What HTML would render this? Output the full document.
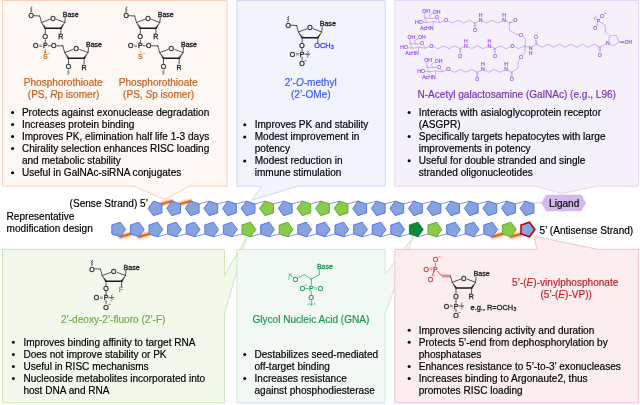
<!DOCTYPE html>
<html><head><meta charset="utf-8"><title>siRNA chemical modifications</title>
<style>
html,body{margin:0;padding:0;background:#fff;}
body{width:640px;height:405px;overflow:hidden;}
svg{display:block;will-change:transform;font-family:"Liberation Sans",sans-serif;}
.t{font-size:10.07px;fill:#000;stroke:#000;stroke-width:0.18px;}
.h{font-size:10.07px;text-anchor:middle;stroke-width:0.18px;}
.c{font-size:7px;fill:#222;stroke:#222;stroke-width:0.3px;text-anchor:middle;}
.cl{font-size:7px;fill:#222;stroke:#222;stroke-width:0.3px;}
.g{font-size:5.15px;fill:#9040E8;stroke:#9040E8;stroke-width:0.13px;text-anchor:middle;}
</style></head><body>
<svg width="640" height="405" viewBox="0 0 640 405">
<defs><filter id="glow" x="-20%" y="-100%" width="140%" height="300%"><feGaussianBlur stdDeviation="0.9"/></filter></defs>
<rect width="640" height="405" fill="#fff"/>
<path d="M2.50 249.40 L224.40 249.40 L224.40 275.50 L246.90 237.20 L224.40 313.50 L224.40 402.80 L2.50 402.80 Z" fill="#F3F8EC" stroke="#CDE6B2" stroke-width="1" stroke-linejoin="miter" />
<path d="M237.00 249.40 L385.00 249.40 L385.00 274.70 L413.30 236.50 L385.00 314.00 L385.00 402.80 L237.00 402.80 Z" fill="#F2F9F4" stroke="#CBE8D2" stroke-width="1" stroke-linejoin="miter" />
<path d="M394.80 249.40 L536.90 249.40 L534.00 236.20 L598.00 249.40 L638.50 249.40 L638.50 402.80 L394.80 402.80 Z" fill="#FCEEEF" stroke="#F4C5CA" stroke-width="1" stroke-linejoin="miter" />
<path d="M2.50 0.50 L227.00 0.50 L227.00 186.20 L188.90 186.20 L164.70 199.40 L133.40 186.20 L2.50 186.20 Z" fill="#FDF8F4" stroke="#FAD3B8" stroke-width="1" stroke-linejoin="miter" />
<path d="M237.00 0.50 L385.20 0.50 L385.20 186.20 L297.50 186.20 L251.30 200.30 L261.90 186.20 L237.00 186.20 Z" fill="#F1F3FD" stroke="#CFD8F8" stroke-width="1" stroke-linejoin="miter" />
<path d="M394.80 0.50 L638.50 0.50 L638.50 186.20 L596.60 186.20 L562.20 193.50 L535.60 186.20 L394.80 186.20 Z" fill="#F5F1FB" stroke="#E4D6F4" stroke-width="1" stroke-linejoin="miter" />
<line x1="161.94" y1="203.90" x2="171.99" y2="201.12" stroke="#F2A468" stroke-width="4" stroke-linecap="round" filter="url(#glow)"/>
<line x1="161.94" y1="203.90" x2="171.99" y2="201.12" stroke="#DA6A1E" stroke-width="1.9" stroke-linecap="round"/>
<line x1="180.54" y1="203.90" x2="190.59" y2="201.12" stroke="#F2A468" stroke-width="4" stroke-linecap="round" filter="url(#glow)"/>
<line x1="180.54" y1="203.90" x2="190.59" y2="201.12" stroke="#DA6A1E" stroke-width="1.9" stroke-linecap="round"/>
<line x1="199.14" y1="203.90" x2="209.19" y2="201.12" stroke="#5C7AF0" stroke-width="0.8"/>
<line x1="217.74" y1="203.90" x2="227.79" y2="201.12" stroke="#5C7AF0" stroke-width="0.8"/>
<line x1="236.34" y1="203.90" x2="246.39" y2="201.12" stroke="#5C7AF0" stroke-width="0.8"/>
<line x1="254.94" y1="203.90" x2="264.99" y2="201.12" stroke="#5C7AF0" stroke-width="0.8"/>
<line x1="273.54" y1="203.90" x2="283.59" y2="201.12" stroke="#5C7AF0" stroke-width="0.8"/>
<line x1="292.14" y1="203.90" x2="302.19" y2="201.12" stroke="#5C7AF0" stroke-width="0.8"/>
<line x1="310.74" y1="203.90" x2="320.79" y2="201.12" stroke="#5C7AF0" stroke-width="0.8"/>
<line x1="329.34" y1="203.90" x2="339.39" y2="201.12" stroke="#5C7AF0" stroke-width="0.8"/>
<line x1="347.94" y1="203.90" x2="357.99" y2="201.12" stroke="#5C7AF0" stroke-width="0.8"/>
<line x1="366.54" y1="203.90" x2="376.59" y2="201.12" stroke="#5C7AF0" stroke-width="0.8"/>
<line x1="385.14" y1="203.90" x2="395.19" y2="201.12" stroke="#5C7AF0" stroke-width="0.8"/>
<line x1="403.74" y1="203.90" x2="413.79" y2="201.12" stroke="#5C7AF0" stroke-width="0.8"/>
<line x1="422.34" y1="203.90" x2="432.39" y2="201.12" stroke="#5C7AF0" stroke-width="0.8"/>
<line x1="440.94" y1="203.90" x2="450.99" y2="201.12" stroke="#5C7AF0" stroke-width="0.8"/>
<line x1="459.54" y1="203.90" x2="469.59" y2="201.12" stroke="#5C7AF0" stroke-width="0.8"/>
<line x1="478.14" y1="203.90" x2="488.19" y2="201.12" stroke="#5C7AF0" stroke-width="0.8"/>
<line x1="496.74" y1="203.90" x2="506.79" y2="201.12" stroke="#5C7AF0" stroke-width="0.8"/>
<line x1="515.34" y1="203.90" x2="525.39" y2="201.12" stroke="#5C7AF0" stroke-width="0.8"/>
<line x1="120.36" y1="236.78" x2="130.41" y2="234.00" stroke="#F2A468" stroke-width="4" stroke-linecap="round" filter="url(#glow)"/>
<line x1="120.36" y1="236.78" x2="130.41" y2="234.00" stroke="#DA6A1E" stroke-width="1.9" stroke-linecap="round"/>
<line x1="138.96" y1="236.78" x2="149.01" y2="234.00" stroke="#F2A468" stroke-width="4" stroke-linecap="round" filter="url(#glow)"/>
<line x1="138.96" y1="236.78" x2="149.01" y2="234.00" stroke="#DA6A1E" stroke-width="1.9" stroke-linecap="round"/>
<line x1="157.56" y1="236.78" x2="167.61" y2="234.00" stroke="#5C7AF0" stroke-width="0.8"/>
<line x1="176.16" y1="236.78" x2="186.21" y2="234.00" stroke="#5C7AF0" stroke-width="0.8"/>
<line x1="194.76" y1="236.78" x2="204.81" y2="234.00" stroke="#5C7AF0" stroke-width="0.8"/>
<line x1="213.36" y1="236.78" x2="223.41" y2="234.00" stroke="#5C7AF0" stroke-width="0.8"/>
<line x1="231.96" y1="236.78" x2="242.01" y2="234.00" stroke="#5C7AF0" stroke-width="0.8"/>
<line x1="250.56" y1="236.78" x2="260.61" y2="234.00" stroke="#5C7AF0" stroke-width="0.8"/>
<line x1="269.16" y1="236.78" x2="279.21" y2="234.00" stroke="#5C7AF0" stroke-width="0.8"/>
<line x1="287.76" y1="236.78" x2="297.81" y2="234.00" stroke="#5C7AF0" stroke-width="0.8"/>
<line x1="306.36" y1="236.78" x2="316.41" y2="234.00" stroke="#5C7AF0" stroke-width="0.8"/>
<line x1="324.96" y1="236.78" x2="335.01" y2="234.00" stroke="#5C7AF0" stroke-width="0.8"/>
<line x1="343.56" y1="236.78" x2="353.61" y2="234.00" stroke="#5C7AF0" stroke-width="0.8"/>
<line x1="362.16" y1="236.78" x2="372.21" y2="234.00" stroke="#5C7AF0" stroke-width="0.8"/>
<line x1="380.76" y1="236.78" x2="390.81" y2="234.00" stroke="#5C7AF0" stroke-width="0.8"/>
<line x1="399.36" y1="236.78" x2="409.41" y2="234.00" stroke="#5C7AF0" stroke-width="0.8"/>
<line x1="417.96" y1="236.78" x2="428.01" y2="234.00" stroke="#5C7AF0" stroke-width="0.8"/>
<line x1="436.56" y1="236.78" x2="446.61" y2="234.00" stroke="#5C7AF0" stroke-width="0.8"/>
<line x1="455.16" y1="236.78" x2="465.21" y2="234.00" stroke="#5C7AF0" stroke-width="0.8"/>
<line x1="473.76" y1="236.78" x2="483.81" y2="234.00" stroke="#5C7AF0" stroke-width="0.8"/>
<line x1="492.36" y1="236.78" x2="502.41" y2="234.00" stroke="#F2A468" stroke-width="4" stroke-linecap="round" filter="url(#glow)"/>
<line x1="492.36" y1="236.78" x2="502.41" y2="234.00" stroke="#DA6A1E" stroke-width="1.9" stroke-linecap="round"/>
<line x1="510.96" y1="236.78" x2="521.01" y2="234.00" stroke="#F2A468" stroke-width="4" stroke-linecap="round" filter="url(#glow)"/>
<line x1="510.96" y1="236.78" x2="521.01" y2="234.00" stroke="#DA6A1E" stroke-width="1.9" stroke-linecap="round"/>
<line x1="533.94" y1="202.9" x2="542" y2="202.9" stroke="#CDB4EE" stroke-width="0.8"/>
<path d="M148.10 208.40 L153.39 201.12 L161.94 203.90 L161.94 212.90 L153.39 215.68 Z" fill="#86A3DC" stroke="#4C6CF0" stroke-width="0.9" stroke-linejoin="miter" />
<path d="M166.70 208.40 L171.99 201.12 L180.54 203.90 L180.54 212.90 L171.99 215.68 Z" fill="#86A3DC" stroke="#4C6CF0" stroke-width="0.9" stroke-linejoin="miter" />
<path d="M185.30 208.40 L190.59 201.12 L199.14 203.90 L199.14 212.90 L190.59 215.68 Z" fill="#86A3DC" stroke="#4C6CF0" stroke-width="0.9" stroke-linejoin="miter" />
<path d="M203.90 208.40 L209.19 201.12 L217.74 203.90 L217.74 212.90 L209.19 215.68 Z" fill="#86A3DC" stroke="#4C6CF0" stroke-width="0.9" stroke-linejoin="miter" />
<path d="M222.50 208.40 L227.79 201.12 L236.34 203.90 L236.34 212.90 L227.79 215.68 Z" fill="#86A3DC" stroke="#4C6CF0" stroke-width="0.9" stroke-linejoin="miter" />
<path d="M241.10 208.40 L246.39 201.12 L254.94 203.90 L254.94 212.90 L246.39 215.68 Z" fill="#86A3DC" stroke="#4C6CF0" stroke-width="0.9" stroke-linejoin="miter" />
<path d="M259.70 208.40 L264.99 201.12 L273.54 203.90 L273.54 212.90 L264.99 215.68 Z" fill="#8ACB4A" stroke="#5FA22C" stroke-width="0.9" stroke-linejoin="miter" />
<path d="M278.30 208.40 L283.59 201.12 L292.14 203.90 L292.14 212.90 L283.59 215.68 Z" fill="#86A3DC" stroke="#4C6CF0" stroke-width="0.9" stroke-linejoin="miter" />
<path d="M296.90 208.40 L302.19 201.12 L310.74 203.90 L310.74 212.90 L302.19 215.68 Z" fill="#8ACB4A" stroke="#5FA22C" stroke-width="0.9" stroke-linejoin="miter" />
<path d="M315.50 208.40 L320.79 201.12 L329.34 203.90 L329.34 212.90 L320.79 215.68 Z" fill="#8ACB4A" stroke="#5FA22C" stroke-width="0.9" stroke-linejoin="miter" />
<path d="M334.10 208.40 L339.39 201.12 L347.94 203.90 L347.94 212.90 L339.39 215.68 Z" fill="#8ACB4A" stroke="#5FA22C" stroke-width="0.9" stroke-linejoin="miter" />
<path d="M352.70 208.40 L357.99 201.12 L366.54 203.90 L366.54 212.90 L357.99 215.68 Z" fill="#86A3DC" stroke="#4C6CF0" stroke-width="0.9" stroke-linejoin="miter" />
<path d="M371.30 208.40 L376.59 201.12 L385.14 203.90 L385.14 212.90 L376.59 215.68 Z" fill="#86A3DC" stroke="#4C6CF0" stroke-width="0.9" stroke-linejoin="miter" />
<path d="M389.90 208.40 L395.19 201.12 L403.74 203.90 L403.74 212.90 L395.19 215.68 Z" fill="#86A3DC" stroke="#4C6CF0" stroke-width="0.9" stroke-linejoin="miter" />
<path d="M408.50 208.40 L413.79 201.12 L422.34 203.90 L422.34 212.90 L413.79 215.68 Z" fill="#86A3DC" stroke="#4C6CF0" stroke-width="0.9" stroke-linejoin="miter" />
<path d="M427.10 208.40 L432.39 201.12 L440.94 203.90 L440.94 212.90 L432.39 215.68 Z" fill="#86A3DC" stroke="#4C6CF0" stroke-width="0.9" stroke-linejoin="miter" />
<path d="M445.70 208.40 L450.99 201.12 L459.54 203.90 L459.54 212.90 L450.99 215.68 Z" fill="#86A3DC" stroke="#4C6CF0" stroke-width="0.9" stroke-linejoin="miter" />
<path d="M464.30 208.40 L469.59 201.12 L478.14 203.90 L478.14 212.90 L469.59 215.68 Z" fill="#86A3DC" stroke="#4C6CF0" stroke-width="0.9" stroke-linejoin="miter" />
<path d="M482.90 208.40 L488.19 201.12 L496.74 203.90 L496.74 212.90 L488.19 215.68 Z" fill="#86A3DC" stroke="#4C6CF0" stroke-width="0.9" stroke-linejoin="miter" />
<path d="M501.50 208.40 L506.79 201.12 L515.34 203.90 L515.34 212.90 L506.79 215.68 Z" fill="#86A3DC" stroke="#4C6CF0" stroke-width="0.9" stroke-linejoin="miter" />
<path d="M520.10 208.40 L525.39 201.12 L533.94 203.90 L533.94 212.90 L525.39 215.68 Z" fill="#86A3DC" stroke="#4C6CF0" stroke-width="0.9" stroke-linejoin="miter" />
<path d="M125.65 229.50 L120.36 222.22 L111.81 225.00 L111.81 234.00 L120.36 236.78 Z" fill="#86A3DC" stroke="#4C6CF0" stroke-width="0.9" stroke-linejoin="miter" />
<path d="M144.25 229.50 L138.96 222.22 L130.41 225.00 L130.41 234.00 L138.96 236.78 Z" fill="#86A3DC" stroke="#4C6CF0" stroke-width="0.9" stroke-linejoin="miter" />
<path d="M162.85 229.50 L157.56 222.22 L149.01 225.00 L149.01 234.00 L157.56 236.78 Z" fill="#86A3DC" stroke="#4C6CF0" stroke-width="0.9" stroke-linejoin="miter" />
<path d="M181.45 229.50 L176.16 222.22 L167.61 225.00 L167.61 234.00 L176.16 236.78 Z" fill="#86A3DC" stroke="#4C6CF0" stroke-width="0.9" stroke-linejoin="miter" />
<path d="M200.05 229.50 L194.76 222.22 L186.21 225.00 L186.21 234.00 L194.76 236.78 Z" fill="#86A3DC" stroke="#4C6CF0" stroke-width="0.9" stroke-linejoin="miter" />
<path d="M218.65 229.50 L213.36 222.22 L204.81 225.00 L204.81 234.00 L213.36 236.78 Z" fill="#86A3DC" stroke="#4C6CF0" stroke-width="0.9" stroke-linejoin="miter" />
<path d="M237.25 229.50 L231.96 222.22 L223.41 225.00 L223.41 234.00 L231.96 236.78 Z" fill="#86A3DC" stroke="#4C6CF0" stroke-width="0.9" stroke-linejoin="miter" />
<path d="M255.85 229.50 L250.56 222.22 L242.01 225.00 L242.01 234.00 L250.56 236.78 Z" fill="#8ACB4A" stroke="#5FA22C" stroke-width="0.9" stroke-linejoin="miter" />
<path d="M274.45 229.50 L269.16 222.22 L260.61 225.00 L260.61 234.00 L269.16 236.78 Z" fill="#86A3DC" stroke="#4C6CF0" stroke-width="0.9" stroke-linejoin="miter" />
<path d="M293.05 229.50 L287.76 222.22 L279.21 225.00 L279.21 234.00 L287.76 236.78 Z" fill="#8ACB4A" stroke="#5FA22C" stroke-width="0.9" stroke-linejoin="miter" />
<path d="M311.65 229.50 L306.36 222.22 L297.81 225.00 L297.81 234.00 L306.36 236.78 Z" fill="#86A3DC" stroke="#4C6CF0" stroke-width="0.9" stroke-linejoin="miter" />
<path d="M330.25 229.50 L324.96 222.22 L316.41 225.00 L316.41 234.00 L324.96 236.78 Z" fill="#86A3DC" stroke="#4C6CF0" stroke-width="0.9" stroke-linejoin="miter" />
<path d="M348.85 229.50 L343.56 222.22 L335.01 225.00 L335.01 234.00 L343.56 236.78 Z" fill="#86A3DC" stroke="#4C6CF0" stroke-width="0.9" stroke-linejoin="miter" />
<path d="M367.45 229.50 L362.16 222.22 L353.61 225.00 L353.61 234.00 L362.16 236.78 Z" fill="#86A3DC" stroke="#4C6CF0" stroke-width="0.9" stroke-linejoin="miter" />
<path d="M386.05 229.50 L380.76 222.22 L372.21 225.00 L372.21 234.00 L380.76 236.78 Z" fill="#86A3DC" stroke="#4C6CF0" stroke-width="0.9" stroke-linejoin="miter" />
<path d="M404.65 229.50 L399.36 222.22 L390.81 225.00 L390.81 234.00 L399.36 236.78 Z" fill="#86A3DC" stroke="#4C6CF0" stroke-width="0.9" stroke-linejoin="miter" />
<path d="M423.25 229.50 L417.96 222.22 L409.41 225.00 L409.41 234.00 L417.96 236.78 Z" fill="#0E8A3C" stroke="#2A6B2A" stroke-width="0.9" stroke-linejoin="miter" />
<path d="M441.85 229.50 L436.56 222.22 L428.01 225.00 L428.01 234.00 L436.56 236.78 Z" fill="#8ACB4A" stroke="#5FA22C" stroke-width="0.9" stroke-linejoin="miter" />
<path d="M460.45 229.50 L455.16 222.22 L446.61 225.00 L446.61 234.00 L455.16 236.78 Z" fill="#86A3DC" stroke="#4C6CF0" stroke-width="0.9" stroke-linejoin="miter" />
<path d="M479.05 229.50 L473.76 222.22 L465.21 225.00 L465.21 234.00 L473.76 236.78 Z" fill="#86A3DC" stroke="#4C6CF0" stroke-width="0.9" stroke-linejoin="miter" />
<path d="M497.65 229.50 L492.36 222.22 L483.81 225.00 L483.81 234.00 L492.36 236.78 Z" fill="#86A3DC" stroke="#4C6CF0" stroke-width="0.9" stroke-linejoin="miter" />
<path d="M516.25 229.50 L510.96 222.22 L502.41 225.00 L502.41 234.00 L510.96 236.78 Z" fill="#8ACB4A" stroke="#5FA22C" stroke-width="0.9" stroke-linejoin="miter" />
<path d="M534.85 229.50 L529.56 222.22 L521.01 225.00 L521.01 234.00 L529.56 236.78 Z" fill="#82A6E2" stroke="#C00000" stroke-width="1.6" stroke-linejoin="miter" />
<path d="M541.60 202.90 L546.20 194.90 L581.20 194.90 L585.80 202.90 L581.20 211.00 L546.20 211.00 Z" fill="#D5B9EC" stroke="#D5B9EC" stroke-width="0.5" stroke-linejoin="miter" />
<text class="t" x="549.1" y="206.8">Ligand</text>
<text class="t" x="69.6" y="207.3" >(Sense Strand) 5’</text>
<text class="t" x="6.6" y="220" >Representative</text>
<text class="t" x="6.6" y="232" >modification design</text>
<text class="t" x="539.6" y="234.2" >5’ (Antisense Strand)</text>
<text class="h" x="63.2" y="86" fill="#C65F1C" stroke="#C65F1C">Phosphorothioate</text>
<text class="h" x="63.6" y="98" fill="#C65F1C" stroke="#C65F1C">(PS, <tspan font-style="italic">R</tspan>p isomer)</text>
<text class="h" x="158.2" y="86" fill="#C65F1C" stroke="#C65F1C">Phosphorothioate</text>
<text class="h" x="158.6" y="98" fill="#C65F1C" stroke="#C65F1C">(PS, <tspan font-style="italic">S</tspan>p isomer)</text>
<circle cx="12.55" cy="112.40" r="1.5" fill="#000"/>
<text class="t" x="21.9" y="115.7" >Protects against exonuclease degradation</text>
<circle cx="12.55" cy="124.50" r="1.5" fill="#000"/>
<text class="t" x="21.9" y="127.8" >Increases protein binding</text>
<circle cx="12.55" cy="136.60" r="1.5" fill="#000"/>
<text class="t" x="21.9" y="139.9" >Improves PK, elimination half life 1-3 days</text>
<circle cx="12.55" cy="148.60" r="1.5" fill="#000"/>
<text class="t" x="21.9" y="151.9" >Chirality selection enhances RISC loading</text>
<text class="t" x="21.9" y="164" >and metabolic stability</text>
<circle cx="12.55" cy="172.80" r="1.5" fill="#000"/>
<text class="t" x="21.9" y="176.1" >Useful in GalNAc-siRNA conjugates</text>
<text class="h" x="310.7" y="85.6" fill="#3B5BEE" stroke="#3B5BEE">2’-<tspan font-style="italic">O</tspan>-methyl</text>
<text class="h" x="310.8" y="98" fill="#3B5BEE" stroke="#3B5BEE">(2’-OMe)</text>
<circle cx="244.75" cy="124.80" r="1.5" fill="#000"/>
<text class="t" x="254.7" y="128.1" >Improves PK and stability</text>
<circle cx="244.75" cy="136.90" r="1.5" fill="#000"/>
<text class="t" x="254.7" y="140.2" >Modest improvement in</text>
<text class="t" x="254.7" y="152.2" >potency</text>
<circle cx="244.75" cy="161.00" r="1.5" fill="#000"/>
<text class="t" x="254.7" y="164.3" >Modest reduction in</text>
<text class="t" x="254.7" y="176.4" >immune stimulation</text>
<text class="h" x="516.7" y="97.6" fill="#7A30B8" stroke="#7A30B8">N-Acetyl galactosamine (GalNAc) (e.g., L96)</text>
<circle cx="409.15" cy="112.40" r="1.5" fill="#000"/>
<text class="t" x="418.7" y="115.7" >Interacts with asialoglycoprotein receptor</text>
<text class="t" x="418.7" y="127.8" >(ASGPR)</text>
<circle cx="409.15" cy="136.60" r="1.5" fill="#000"/>
<text class="t" x="418.7" y="139.9" >Specifically targets hepatocytes with large</text>
<text class="t" x="418.7" y="151.9" >improvements in potency</text>
<circle cx="409.15" cy="160.70" r="1.5" fill="#000"/>
<text class="t" x="418.7" y="164" >Useful for double stranded and single</text>
<text class="t" x="418.7" y="176.1" >stranded oligonucleotides</text>
<text class="h" x="113.2" y="323" fill="#70AD47" stroke="#70AD47">2’-deoxy-2’-fluoro (2’-F)</text>
<circle cx="13.35" cy="342.30" r="1.5" fill="#000"/>
<text class="t" x="23.4" y="345.6" >Improves binding affinity to target RNA</text>
<circle cx="13.35" cy="354.40" r="1.5" fill="#000"/>
<text class="t" x="23.4" y="357.7" >Does not improve stability or PK</text>
<circle cx="13.35" cy="366.40" r="1.5" fill="#000"/>
<text class="t" x="23.4" y="369.7" >Useful in RISC mechanisms</text>
<circle cx="13.35" cy="378.50" r="1.5" fill="#000"/>
<text class="t" x="23.4" y="381.8" >Nucleoside metabolites incorporated into</text>
<text class="t" x="23.4" y="393.9" >host DNA and RNA</text>
<text class="h" x="310.9" y="323" fill="#1A9A50" stroke="#1A9A50">Glycol Nucleic Acid (GNA)</text>
<circle cx="244.75" cy="354.50" r="1.5" fill="#000"/>
<text class="t" x="254.5" y="357.8" >Destabilizes seed-mediated</text>
<text class="t" x="254.5" y="369.8" >off-target binding</text>
<circle cx="244.75" cy="378.50" r="1.5" fill="#000"/>
<text class="t" x="254.5" y="381.8" >Increases resistance</text>
<text class="t" x="254.5" y="393.9" >against phosphodiesterase</text>
<text class="h" x="565.2" y="285.7" fill="#C0202A" stroke="#C0202A">5’-(<tspan font-style="italic">E</tspan>)-vinylphosphonate</text>
<text class="h" x="566.2" y="297.6" fill="#C0202A" stroke="#C0202A">(5’-(<tspan font-style="italic">E</tspan>)-VP))</text>
<circle cx="409.15" cy="330.20" r="1.5" fill="#000"/>
<text class="t" x="418.7" y="333.5" >Improves silencing activity and duration</text>
<circle cx="409.15" cy="342.30" r="1.5" fill="#000"/>
<text class="t" x="418.7" y="345.6" >Protects 5’-end from dephosphorylation by</text>
<text class="t" x="418.7" y="357.7" >phosphatases</text>
<circle cx="409.15" cy="366.50" r="1.5" fill="#000"/>
<text class="t" x="418.7" y="369.8" >Enhances resistance to 5’-to-3’ exonucleases</text>
<circle cx="409.15" cy="378.50" r="1.5" fill="#000"/>
<text class="t" x="418.7" y="381.8" >Increases binding to Argonaute2, thus</text>
<text class="t" x="418.7" y="393.9" >promotes RISC loading</text>
<line x1="39.70" y1="16.00" x2="41.50" y2="22.50" stroke="#2a2a2a" stroke-width="0.8" stroke-linecap="round" />
<line x1="41.50" y1="22.50" x2="49.80" y2="19.40" stroke="#2a2a2a" stroke-width="0.8" stroke-linecap="round" />
<line x1="56.60" y1="19.40" x2="64.80" y2="22.50" stroke="#2a2a2a" stroke-width="0.8" stroke-linecap="round" />
<text class="c" x="53.1" y="20.8">O</text>
<polygon points="41.50,22.50 44.68,28.62 45.92,27.78" fill="#1a1a1a" stroke="#1a1a1a" stroke-width="0.3" stroke-linejoin="round"/>
<polygon points="64.80,22.50 60.28,27.78 61.52,28.62" fill="#1a1a1a" stroke="#1a1a1a" stroke-width="0.3" stroke-linejoin="round"/>
<line x1="45.30" y1="28.20" x2="60.90" y2="28.20" stroke="#1a1a1a" stroke-width="1.5" stroke-linecap="round" />
<line x1="64.80" y1="22.50" x2="65.30" y2="17.70" stroke="#2a2a2a" stroke-width="0.8" stroke-linecap="round" />
<text class="cl" x="62.8" y="16.9">Base</text>
<line x1="45.30" y1="28.20" x2="45.30" y2="33.50" stroke="#2a2a2a" stroke-width="0.8" stroke-linecap="round" />
<text class="c" x="45.2" y="39.1">O</text>
<line x1="60.90" y1="28.20" x2="60.90" y2="33.50" stroke="#2a2a2a" stroke-width="0.8" stroke-linecap="round" />
<text class="c" x="31.3" y="18.4">O</text>
<line x1="34.30" y1="15.70" x2="39.70" y2="16.00" stroke="#2a2a2a" stroke-width="0.8" stroke-linecap="round" />
<path d="M31.30 6.90 Q33.00 7.37 31.30 7.83 Q29.60 8.30 31.30 8.77 Q33.00 9.23 31.30 9.70 Q29.60 10.17 31.30 10.63 Q33.00 11.10 31.30 11.57 Q29.60 12.03 31.30 12.50" fill="none" stroke="#2a2a2a" stroke-width="0.65"/>
<text class="c" x="60.9" y="39.4">R</text>
<line x1="45.30" y1="40.10" x2="45.30" y2="42.70" stroke="#2a2a2a" stroke-width="0.8" stroke-linecap="round" />
<text class="c" x="45.3" y="48.4">P</text>
<text class="c" x="35.7" y="48.4">O</text>
<line x1="39.60" y1="45.10" x2="41.70" y2="45.10" stroke="#2a2a2a" stroke-width="0.5" stroke-linecap="round" />
<line x1="39.60" y1="46.50" x2="41.70" y2="46.50" stroke="#2a2a2a" stroke-width="0.5" stroke-linecap="round" />
<line x1="48.20" y1="45.80" x2="50.30" y2="45.80" stroke="#2a2a2a" stroke-width="0.8" stroke-linecap="round" />
<text class="c" x="53.7" y="48.4">O</text>
<line x1="56.80" y1="45.80" x2="62.50" y2="45.80" stroke="#2a2a2a" stroke-width="0.8" stroke-linecap="round" />
<line x1="62.50" y1="45.80" x2="62.90" y2="46.10" stroke="#2a2a2a" stroke-width="0.8" stroke-linecap="round" />
<line x1="62.90" y1="46.10" x2="64.70" y2="52.60" stroke="#2a2a2a" stroke-width="0.8" stroke-linecap="round" />
<line x1="64.70" y1="52.60" x2="73.00" y2="49.50" stroke="#2a2a2a" stroke-width="0.8" stroke-linecap="round" />
<line x1="79.80" y1="49.50" x2="88.00" y2="52.60" stroke="#2a2a2a" stroke-width="0.8" stroke-linecap="round" />
<text class="c" x="76.3" y="50.9">O</text>
<polygon points="64.70,52.60 67.88,58.72 69.12,57.88" fill="#1a1a1a" stroke="#1a1a1a" stroke-width="0.3" stroke-linejoin="round"/>
<polygon points="88.00,52.60 83.48,57.88 84.72,58.72" fill="#1a1a1a" stroke="#1a1a1a" stroke-width="0.3" stroke-linejoin="round"/>
<line x1="68.50" y1="58.30" x2="84.10" y2="58.30" stroke="#1a1a1a" stroke-width="1.5" stroke-linecap="round" />
<line x1="88.00" y1="52.60" x2="88.50" y2="47.80" stroke="#2a2a2a" stroke-width="0.8" stroke-linecap="round" />
<text class="cl" x="86" y="47">Base</text>
<line x1="68.50" y1="58.30" x2="68.50" y2="63.60" stroke="#2a2a2a" stroke-width="0.8" stroke-linecap="round" />
<text class="c" x="68.4" y="69.2">O</text>
<line x1="84.10" y1="58.30" x2="84.10" y2="63.60" stroke="#2a2a2a" stroke-width="0.8" stroke-linecap="round" />
<text class="c" x="84.1" y="69.5">R</text>
<path d="M68.40 70.10 Q70.10 70.65 68.40 71.20 Q66.70 71.75 68.40 72.30 Q70.10 72.85 68.40 73.40 Q66.70 73.95 68.40 74.50" fill="none" stroke="#2a2a2a" stroke-width="0.65"/>
<text class="c" x="45.3" y="59.3" style="fill:#CC6A2C;stroke:#CC6A2C">S</text>
<line x1="48.15" y1="53.40" x2="50.05" y2="53.40" stroke="#CC6A2C" stroke-width="0.5" stroke-linecap="round" />
<polygon points="45.30,49.00 44.50,53.00 46.10,53.00" fill="#C65F1C" stroke="#C65F1C" stroke-width="0.3" stroke-linejoin="round"/>
<line x1="134.70" y1="16.00" x2="136.50" y2="22.50" stroke="#2a2a2a" stroke-width="0.8" stroke-linecap="round" />
<line x1="136.50" y1="22.50" x2="144.80" y2="19.40" stroke="#2a2a2a" stroke-width="0.8" stroke-linecap="round" />
<line x1="151.60" y1="19.40" x2="159.80" y2="22.50" stroke="#2a2a2a" stroke-width="0.8" stroke-linecap="round" />
<text class="c" x="148.1" y="20.8">O</text>
<polygon points="136.50,22.50 139.68,28.62 140.92,27.78" fill="#1a1a1a" stroke="#1a1a1a" stroke-width="0.3" stroke-linejoin="round"/>
<polygon points="159.80,22.50 155.28,27.78 156.52,28.62" fill="#1a1a1a" stroke="#1a1a1a" stroke-width="0.3" stroke-linejoin="round"/>
<line x1="140.30" y1="28.20" x2="155.90" y2="28.20" stroke="#1a1a1a" stroke-width="1.5" stroke-linecap="round" />
<line x1="159.80" y1="22.50" x2="160.30" y2="17.70" stroke="#2a2a2a" stroke-width="0.8" stroke-linecap="round" />
<text class="cl" x="157.8" y="16.9">Base</text>
<line x1="140.30" y1="28.20" x2="140.30" y2="33.50" stroke="#2a2a2a" stroke-width="0.8" stroke-linecap="round" />
<text class="c" x="140.2" y="39.1">O</text>
<line x1="155.90" y1="28.20" x2="155.90" y2="33.50" stroke="#2a2a2a" stroke-width="0.8" stroke-linecap="round" />
<text class="c" x="126.3" y="18.4">O</text>
<line x1="129.30" y1="15.70" x2="134.70" y2="16.00" stroke="#2a2a2a" stroke-width="0.8" stroke-linecap="round" />
<path d="M126.30 6.90 Q128.00 7.37 126.30 7.83 Q124.60 8.30 126.30 8.77 Q128.00 9.23 126.30 9.70 Q124.60 10.17 126.30 10.63 Q128.00 11.10 126.30 11.57 Q124.60 12.03 126.30 12.50" fill="none" stroke="#2a2a2a" stroke-width="0.65"/>
<text class="c" x="155.9" y="39.4">R</text>
<line x1="140.30" y1="40.10" x2="140.30" y2="42.70" stroke="#2a2a2a" stroke-width="0.8" stroke-linecap="round" />
<text class="c" x="140.3" y="48.4">P</text>
<text class="c" x="130.7" y="48.4">O</text>
<line x1="134.60" y1="45.10" x2="136.70" y2="45.10" stroke="#2a2a2a" stroke-width="0.5" stroke-linecap="round" />
<line x1="134.60" y1="46.50" x2="136.70" y2="46.50" stroke="#2a2a2a" stroke-width="0.5" stroke-linecap="round" />
<line x1="143.20" y1="45.80" x2="145.30" y2="45.80" stroke="#2a2a2a" stroke-width="0.8" stroke-linecap="round" />
<text class="c" x="148.7" y="48.4">O</text>
<line x1="151.80" y1="45.80" x2="157.50" y2="45.80" stroke="#2a2a2a" stroke-width="0.8" stroke-linecap="round" />
<line x1="157.50" y1="45.80" x2="157.90" y2="46.10" stroke="#2a2a2a" stroke-width="0.8" stroke-linecap="round" />
<line x1="157.90" y1="46.10" x2="159.70" y2="52.60" stroke="#2a2a2a" stroke-width="0.8" stroke-linecap="round" />
<line x1="159.70" y1="52.60" x2="168.00" y2="49.50" stroke="#2a2a2a" stroke-width="0.8" stroke-linecap="round" />
<line x1="174.80" y1="49.50" x2="183.00" y2="52.60" stroke="#2a2a2a" stroke-width="0.8" stroke-linecap="round" />
<text class="c" x="171.3" y="50.9">O</text>
<polygon points="159.70,52.60 162.88,58.72 164.12,57.88" fill="#1a1a1a" stroke="#1a1a1a" stroke-width="0.3" stroke-linejoin="round"/>
<polygon points="183.00,52.60 178.48,57.88 179.72,58.72" fill="#1a1a1a" stroke="#1a1a1a" stroke-width="0.3" stroke-linejoin="round"/>
<line x1="163.50" y1="58.30" x2="179.10" y2="58.30" stroke="#1a1a1a" stroke-width="1.5" stroke-linecap="round" />
<line x1="183.00" y1="52.60" x2="183.50" y2="47.80" stroke="#2a2a2a" stroke-width="0.8" stroke-linecap="round" />
<text class="cl" x="181" y="47">Base</text>
<line x1="163.50" y1="58.30" x2="163.50" y2="63.60" stroke="#2a2a2a" stroke-width="0.8" stroke-linecap="round" />
<text class="c" x="163.4" y="69.2">O</text>
<line x1="179.10" y1="58.30" x2="179.10" y2="63.60" stroke="#2a2a2a" stroke-width="0.8" stroke-linecap="round" />
<text class="c" x="179.1" y="69.5">R</text>
<path d="M163.40 70.10 Q165.10 70.65 163.40 71.20 Q161.70 71.75 163.40 72.30 Q165.10 72.85 163.40 73.40 Q161.70 73.95 163.40 74.50" fill="none" stroke="#2a2a2a" stroke-width="0.65"/>
<text class="c" x="140.3" y="59.3" style="fill:#CC6A2C;stroke:#CC6A2C">S</text>
<line x1="143.15" y1="53.40" x2="145.05" y2="53.40" stroke="#CC6A2C" stroke-width="0.5" stroke-linecap="round" />
<line x1="140.61" y1="49.50" x2="139.99" y2="49.50" stroke="#E0A070" stroke-width="0.4" stroke-linecap="round" />
<line x1="140.75" y1="50.50" x2="139.85" y2="50.50" stroke="#E0A070" stroke-width="0.4" stroke-linecap="round" />
<line x1="140.89" y1="51.50" x2="139.71" y2="51.50" stroke="#E0A070" stroke-width="0.4" stroke-linecap="round" />
<line x1="141.03" y1="52.50" x2="139.57" y2="52.50" stroke="#E0A070" stroke-width="0.4" stroke-linecap="round" />
<line x1="296.60" y1="25.50" x2="298.40" y2="32.00" stroke="#2a2a2a" stroke-width="0.8" stroke-linecap="round" />
<line x1="298.40" y1="32.00" x2="306.70" y2="28.90" stroke="#2a2a2a" stroke-width="0.8" stroke-linecap="round" />
<line x1="313.50" y1="28.90" x2="321.70" y2="32.00" stroke="#2a2a2a" stroke-width="0.8" stroke-linecap="round" />
<text class="c" x="310" y="30.3">O</text>
<polygon points="298.40,32.00 301.58,38.12 302.82,37.28" fill="#1a1a1a" stroke="#1a1a1a" stroke-width="0.3" stroke-linejoin="round"/>
<polygon points="321.70,32.00 317.18,37.28 318.42,38.12" fill="#1a1a1a" stroke="#1a1a1a" stroke-width="0.3" stroke-linejoin="round"/>
<line x1="302.20" y1="37.70" x2="317.80" y2="37.70" stroke="#1a1a1a" stroke-width="1.5" stroke-linecap="round" />
<line x1="321.70" y1="32.00" x2="322.20" y2="27.20" stroke="#2a2a2a" stroke-width="0.8" stroke-linecap="round" />
<text class="cl" x="319.7" y="25.8" style="font-size:7.1px">Base</text>
<line x1="302.20" y1="37.70" x2="302.20" y2="42.10" stroke="#2a2a2a" stroke-width="0.8" stroke-linecap="round" />
<text class="c" x="302.1" y="47.7">O</text>
<line x1="317.80" y1="37.70" x2="317.80" y2="43.00" stroke="#2a2a2a" stroke-width="0.8" stroke-linecap="round" />
<text class="c" x="288.2" y="27.9">O</text>
<line x1="291.20" y1="25.20" x2="296.60" y2="25.50" stroke="#2a2a2a" stroke-width="0.8" stroke-linecap="round" />
<path d="M288.20 16.40 Q289.90 16.87 288.20 17.33 Q286.50 17.80 288.20 18.27 Q289.90 18.73 288.20 19.20 Q286.50 19.67 288.20 20.13 Q289.90 20.60 288.20 21.07 Q286.50 21.53 288.20 22.00" fill="none" stroke="#2a2a2a" stroke-width="0.65"/>
<text class="cl" x="314.2" y="48.4" style="font-size:7.4px;fill:#3C3CF0;stroke:#3C3CF0">OCH<tspan style="font-size:5px" dx="0.3" dy="1">3</tspan></text>
<line x1="302.10" y1="47.60" x2="302.10" y2="51.20" stroke="#2a2a2a" stroke-width="0.8" stroke-linecap="round" />
<text class="c" x="302.1" y="56.8">P</text>
<text class="c" x="292.6" y="56.8">O</text>
<line x1="296.40" y1="53.50" x2="298.50" y2="53.50" stroke="#2a2a2a" stroke-width="0.5" stroke-linecap="round" />
<line x1="296.40" y1="54.90" x2="298.50" y2="54.90" stroke="#2a2a2a" stroke-width="0.5" stroke-linecap="round" />
<line x1="304.90" y1="54.20" x2="309.70" y2="54.20" stroke="#2a2a2a" stroke-width="0.8" stroke-linecap="round" />
<path d="M307.90 50.60 Q309.10 51.20 307.90 51.80 Q306.70 52.40 307.90 53.00 Q309.10 53.60 307.90 54.20 Q306.70 54.80 307.90 55.40 Q309.10 56.00 307.90 56.60 Q306.70 57.20 307.90 57.80" fill="none" stroke="#2a2a2a" stroke-width="0.65"/>
<line x1="302.10" y1="57.30" x2="302.10" y2="59.90" stroke="#2a2a2a" stroke-width="0.8" stroke-linecap="round" />
<text class="c" x="302" y="66">O</text>
<line x1="304.55" y1="60.80" x2="306.45" y2="60.80" stroke="#222" stroke-width="0.5" stroke-linecap="round" />
<line x1="100.40" y1="269.10" x2="102.20" y2="275.60" stroke="#2a2a2a" stroke-width="0.8" stroke-linecap="round" />
<line x1="102.20" y1="275.60" x2="110.50" y2="272.50" stroke="#2a2a2a" stroke-width="0.8" stroke-linecap="round" />
<line x1="117.30" y1="272.50" x2="125.50" y2="275.60" stroke="#2a2a2a" stroke-width="0.8" stroke-linecap="round" />
<text class="c" x="113.8" y="273.9">O</text>
<polygon points="102.20,275.60 105.38,281.72 106.62,280.88" fill="#1a1a1a" stroke="#1a1a1a" stroke-width="0.3" stroke-linejoin="round"/>
<polygon points="125.50,275.60 120.98,280.88 122.22,281.72" fill="#1a1a1a" stroke="#1a1a1a" stroke-width="0.3" stroke-linejoin="round"/>
<line x1="106.00" y1="281.30" x2="121.60" y2="281.30" stroke="#1a1a1a" stroke-width="1.5" stroke-linecap="round" />
<line x1="125.50" y1="275.60" x2="126.00" y2="270.80" stroke="#2a2a2a" stroke-width="0.8" stroke-linecap="round" />
<text class="cl" x="123.5" y="270" style="font-size:7.1px">Base</text>
<line x1="106.00" y1="281.30" x2="106.00" y2="285.60" stroke="#2a2a2a" stroke-width="0.8" stroke-linecap="round" />
<text class="c" x="105.9" y="291.2">O</text>
<line x1="121.60" y1="281.30" x2="121.60" y2="286.60" stroke="#2a2a2a" stroke-width="0.8" stroke-linecap="round" />
<text class="c" x="92" y="271.5">O</text>
<line x1="95.00" y1="268.80" x2="100.40" y2="269.10" stroke="#2a2a2a" stroke-width="0.8" stroke-linecap="round" />
<path d="M92.00 260.00 Q93.70 260.47 92.00 260.93 Q90.30 261.40 92.00 261.87 Q93.70 262.33 92.00 262.80 Q90.30 263.27 92.00 263.73 Q93.70 264.20 92.00 264.67 Q90.30 265.13 92.00 265.60" fill="none" stroke="#2a2a2a" stroke-width="0.65"/>
<text class="cl" x="118.7" y="292.2" style="font-size:7.4px;fill:#70AD47;stroke:#70AD47">F</text>
<line x1="106.00" y1="291.20" x2="106.00" y2="294.70" stroke="#2a2a2a" stroke-width="0.8" stroke-linecap="round" />
<text class="c" x="106" y="300.3">P</text>
<text class="c" x="96.5" y="300.3">O</text>
<line x1="100.30" y1="297.00" x2="102.40" y2="297.00" stroke="#2a2a2a" stroke-width="0.5" stroke-linecap="round" />
<line x1="100.30" y1="298.40" x2="102.40" y2="298.40" stroke="#2a2a2a" stroke-width="0.5" stroke-linecap="round" />
<line x1="108.80" y1="297.70" x2="113.60" y2="297.70" stroke="#2a2a2a" stroke-width="0.8" stroke-linecap="round" />
<path d="M111.80 294.10 Q113.00 294.70 111.80 295.30 Q110.60 295.90 111.80 296.50 Q113.00 297.10 111.80 297.70 Q110.60 298.30 111.80 298.90 Q113.00 299.50 111.80 300.10 Q110.60 300.70 111.80 301.30" fill="none" stroke="#2a2a2a" stroke-width="0.65"/>
<line x1="106.00" y1="300.80" x2="106.00" y2="303.40" stroke="#2a2a2a" stroke-width="0.8" stroke-linecap="round" />
<text class="c" x="105.9" y="309.5">O</text>
<line x1="108.45" y1="304.30" x2="110.35" y2="304.30" stroke="#222" stroke-width="0.5" stroke-linecap="round" />
<text class="cl" x="316.9" y="268.8" style="font-size:7.1px;fill:#1F9A55;stroke:#1F9A55">Base</text>
<line x1="319.30" y1="269.60" x2="319.30" y2="274.60" stroke="#1F9A55" stroke-width="0.7" stroke-linecap="round" />
<line x1="319.30" y1="274.60" x2="311.30" y2="279.10" stroke="#1F9A55" stroke-width="0.7" stroke-linecap="round" />
<line x1="311.30" y1="279.10" x2="304.10" y2="274.60" stroke="#1F9A55" stroke-width="0.7" stroke-linecap="round" />
<line x1="304.10" y1="274.60" x2="298.40" y2="277.60" stroke="#1F9A55" stroke-width="0.7" stroke-linecap="round" />
<text class="c" x="295.6" y="281.9" style="fill:#1F9A55;stroke:#1F9A55">O</text>
<line x1="293.20" y1="277.20" x2="288.60" y2="274.00" stroke="#1F9A55" stroke-width="0.7" stroke-linecap="round" />
<path d="M288.2 279.8 q1.8 -0.6 0.9 -2.2 q-1 -1.6 0.9 -2.2 q1.8 -0.6 0.9 -2.2" fill="none" stroke="#1F9A55" stroke-width="0.55"/>
<line x1="311.30" y1="279.10" x2="311.30" y2="285.20" stroke="#1F9A55" stroke-width="0.7" stroke-linecap="round" />
<text class="c" x="311.3" y="291.1" style="fill:#1F9A55;stroke:#1F9A55">P</text>
<text class="c" x="302.5" y="291.3" style="fill:#1F9A55;stroke:#1F9A55">O</text>
<line x1="304.95" y1="285.00" x2="306.85" y2="285.00" stroke="#1F9A55" stroke-width="0.5" stroke-linecap="round" />
<line x1="305.60" y1="288.60" x2="308.40" y2="288.60" stroke="#1F9A55" stroke-width="0.7" stroke-linecap="round" />
<line x1="314.60" y1="287.90" x2="316.60" y2="287.90" stroke="#1F9A55" stroke-width="0.5" stroke-linecap="round" />
<line x1="314.60" y1="289.30" x2="316.60" y2="289.30" stroke="#1F9A55" stroke-width="0.5" stroke-linecap="round" />
<text class="c" x="320.4" y="291.3" style="fill:#1F9A55;stroke:#1F9A55">O</text>
<line x1="311.30" y1="291.60" x2="311.30" y2="294.20" stroke="#1F9A55" stroke-width="0.7" stroke-linecap="round" />
<text class="c" x="311.3" y="300.2" style="fill:#1F9A55;stroke:#1F9A55">O</text>
<line x1="311.30" y1="300.80" x2="311.30" y2="305.40" stroke="#1F9A55" stroke-width="0.7" stroke-linecap="round" />
<path d="M307.30 304.20 Q307.99 305.40 308.68 304.20 Q309.38 303.00 310.07 304.20 Q310.76 305.40 311.45 304.20 Q312.14 303.00 312.83 304.20 Q313.52 305.40 314.22 304.20 Q314.91 303.00 315.60 304.20" fill="none" stroke="#1F9A55" stroke-width="0.55"/>
<line x1="450.40" y1="275.80" x2="452.20" y2="282.30" stroke="#2a2a2a" stroke-width="0.8" stroke-linecap="round" />
<line x1="452.20" y1="282.30" x2="460.50" y2="279.20" stroke="#2a2a2a" stroke-width="0.8" stroke-linecap="round" />
<line x1="467.30" y1="279.20" x2="475.50" y2="282.30" stroke="#2a2a2a" stroke-width="0.8" stroke-linecap="round" />
<text class="c" x="463.8" y="280.6">O</text>
<polygon points="452.20,282.30 455.38,288.42 456.62,287.58" fill="#1a1a1a" stroke="#1a1a1a" stroke-width="0.3" stroke-linejoin="round"/>
<polygon points="475.50,282.30 470.98,287.58 472.22,288.42" fill="#1a1a1a" stroke="#1a1a1a" stroke-width="0.3" stroke-linejoin="round"/>
<line x1="456.00" y1="288.00" x2="471.60" y2="288.00" stroke="#1a1a1a" stroke-width="1.5" stroke-linecap="round" />
<line x1="475.50" y1="282.30" x2="476.00" y2="277.50" stroke="#2a2a2a" stroke-width="0.8" stroke-linecap="round" />
<text class="cl" x="473.5" y="275.9" style="font-size:7.1px">Base</text>
<line x1="456.00" y1="288.00" x2="456.00" y2="293.30" stroke="#2a2a2a" stroke-width="0.8" stroke-linecap="round" />
<text class="c" x="455.9" y="298.9">O</text>
<line x1="471.60" y1="288.00" x2="471.60" y2="293.30" stroke="#2a2a2a" stroke-width="0.8" stroke-linecap="round" />
<text class="c" x="471.2" y="299.2">R</text>
<line x1="456.00" y1="299.70" x2="456.00" y2="303.00" stroke="#2a2a2a" stroke-width="0.8" stroke-linecap="round" />
<text class="c" x="456" y="308.6">P</text>
<text class="c" x="446.5" y="308.6">O</text>
<line x1="450.30" y1="305.30" x2="452.40" y2="305.30" stroke="#2a2a2a" stroke-width="0.5" stroke-linecap="round" />
<line x1="450.30" y1="306.70" x2="452.40" y2="306.70" stroke="#2a2a2a" stroke-width="0.5" stroke-linecap="round" />
<line x1="458.80" y1="306.00" x2="463.60" y2="306.00" stroke="#2a2a2a" stroke-width="0.8" stroke-linecap="round" />
<path d="M461.80 302.40 Q463.00 303.00 461.80 303.60 Q460.60 304.20 461.80 304.80 Q463.00 305.40 461.80 306.00 Q460.60 306.60 461.80 307.20 Q463.00 307.80 461.80 308.40 Q460.60 309.00 461.80 309.60" fill="none" stroke="#2a2a2a" stroke-width="0.65"/>
<line x1="456.00" y1="309.10" x2="456.00" y2="311.70" stroke="#2a2a2a" stroke-width="0.8" stroke-linecap="round" />
<text class="c" x="455.9" y="317.8">O</text>
<line x1="458.45" y1="312.60" x2="460.35" y2="312.60" stroke="#222" stroke-width="0.5" stroke-linecap="round" />
<text class="cl" x="470.6" y="309.7" style="font-size:7.4px">e.g., R=OCH<tspan style="font-size:5px" dx="0.3" dy="1.05">3</tspan></text>
<line x1="441.20" y1="275.10" x2="450.40" y2="275.40" stroke="#D23842" stroke-width="0.8" stroke-linecap="round" />
<line x1="442.40" y1="276.80" x2="450.10" y2="276.90" stroke="#D23842" stroke-width="0.8" stroke-linecap="round" />
<line x1="437.30" y1="271.30" x2="441.20" y2="275.10" stroke="#D23842" stroke-width="0.8" stroke-linecap="round" />
<text class="c" x="435.4" y="271.5" style="fill:#D23842;stroke:#D23842">P</text>
<text class="c" x="426.2" y="271.5" style="fill:#D23842;stroke:#D23842">O</text>
<line x1="429.90" y1="268.20" x2="432.00" y2="268.20" stroke="#D23842" stroke-width="0.5" stroke-linecap="round" />
<line x1="429.90" y1="269.60" x2="432.00" y2="269.60" stroke="#D23842" stroke-width="0.5" stroke-linecap="round" />
<line x1="435.40" y1="263.40" x2="435.40" y2="265.60" stroke="#D23842" stroke-width="0.8" stroke-linecap="round" />
<text class="c" x="435.4" y="262.4" style="fill:#D23842;stroke:#D23842">O</text>
<line x1="438.25" y1="256.80" x2="440.15" y2="256.80" stroke="#D23842" stroke-width="0.5" stroke-linecap="round" />
<line x1="434.00" y1="271.70" x2="432.20" y2="275.60" stroke="#D23842" stroke-width="0.8" stroke-linecap="round" />
<text class="c" x="430.6" y="281.6" style="fill:#D23842;stroke:#D23842">O</text>
<line x1="432.65" y1="275.20" x2="434.55" y2="275.20" stroke="#D23842" stroke-width="0.5" stroke-linecap="round" />
<text class="g" x="426" y="13">OH</text>
<text class="g" x="436.5" y="13.6">OH</text>
<text class="g" x="436.9" y="19.4" style="font-size:4.86px">O</text>
<text class="g" x="418.9" y="23.7">HO</text>
<text class="g" x="426.7" y="29.8">AcHN</text>
<text class="g" x="446.1" y="22.15" style="font-size:5.34px">O</text>
<line x1="424.50" y1="13.40" x2="424.80" y2="17.80" stroke="#A878EC" stroke-width="0.55" stroke-linecap="round" />
<polyline points="432.60,13.20 429.30,15.00 430.30,18.60" fill="none" stroke="#A878EC" stroke-width="0.55" stroke-linecap="round" stroke-linejoin="round"/>
<polyline points="424.80,17.80 430.30,18.60 434.80,18.00" fill="none" stroke="#A878EC" stroke-width="0.55" stroke-linecap="round" stroke-linejoin="round"/>
<polyline points="438.40,19.40 440.00,22.60 433.40,21.60 426.90,22.60 424.80,17.80" fill="none" stroke="#A878EC" stroke-width="0.55" stroke-linecap="round" stroke-linejoin="round"/>
<line x1="422.60" y1="22.00" x2="426.90" y2="22.60" stroke="#A878EC" stroke-width="0.55" stroke-linecap="round" />
<line x1="433.40" y1="21.60" x2="433.10" y2="25.20" stroke="#A878EC" stroke-width="0.55" stroke-linecap="round" />
<line x1="440.00" y1="22.60" x2="443.80" y2="21.00" stroke="#A878EC" stroke-width="0.55" stroke-linecap="round" />
<polyline points="448.40,21.10 452.50,23.00 458.10,20.25 463.75,23.00 469.40,20.25 475.00,23.00 478.60,21.20" fill="none" stroke="#A878EC" stroke-width="0.55" stroke-linecap="round" stroke-linejoin="round"/>
<line x1="474.50" y1="23.00" x2="474.50" y2="27.20" stroke="#A878EC" stroke-width="0.55" stroke-linecap="round" />
<line x1="475.60" y1="23.20" x2="475.60" y2="27.20" stroke="#A878EC" stroke-width="0.55" stroke-linecap="round" />
<text class="g" x="475" y="31.9">O</text>
<text class="g" x="480.6" y="22.2">N</text>
<text class="g" x="480.6" y="17.1">H</text>
<polyline points="482.80,21.20 486.25,23.00 491.90,20.25 497.50,23.00 501.70,21.10" fill="none" stroke="#A878EC" stroke-width="0.55" stroke-linecap="round" stroke-linejoin="round"/>
<text class="g" x="504" y="22.2">N</text>
<text class="g" x="504" y="17.1">H</text>
<line x1="506.20" y1="21.30" x2="509.40" y2="23.00" stroke="#A878EC" stroke-width="0.55" stroke-linecap="round" />
<text class="g" x="411.3" y="38.65">OH</text>
<text class="g" x="421.8" y="39.25">OH</text>
<text class="g" x="422.2" y="45.05" style="font-size:4.86px">O</text>
<text class="g" x="404.2" y="49.35">HO</text>
<text class="g" x="412" y="55.45">AcHN</text>
<text class="g" x="431.4" y="47.8" style="font-size:5.34px">O</text>
<line x1="409.80" y1="39.05" x2="410.10" y2="43.45" stroke="#A878EC" stroke-width="0.55" stroke-linecap="round" />
<polyline points="417.90,38.85 414.60,40.65 415.60,44.25" fill="none" stroke="#A878EC" stroke-width="0.55" stroke-linecap="round" stroke-linejoin="round"/>
<polyline points="410.10,43.45 415.60,44.25 420.10,43.65" fill="none" stroke="#A878EC" stroke-width="0.55" stroke-linecap="round" stroke-linejoin="round"/>
<polyline points="423.70,45.05 425.30,48.25 418.70,47.25 412.20,48.25 410.10,43.45" fill="none" stroke="#A878EC" stroke-width="0.55" stroke-linecap="round" stroke-linejoin="round"/>
<line x1="407.90" y1="47.65" x2="412.20" y2="48.25" stroke="#A878EC" stroke-width="0.55" stroke-linecap="round" />
<line x1="418.70" y1="47.25" x2="418.40" y2="50.85" stroke="#A878EC" stroke-width="0.55" stroke-linecap="round" />
<line x1="425.30" y1="48.25" x2="429.10" y2="46.65" stroke="#A878EC" stroke-width="0.55" stroke-linecap="round" />
<polyline points="433.70,46.75 437.80,48.65 443.40,45.90 449.05,48.65 454.70,45.90 460.30,48.65 463.90,46.85" fill="none" stroke="#A878EC" stroke-width="0.55" stroke-linecap="round" stroke-linejoin="round"/>
<line x1="459.80" y1="48.65" x2="459.80" y2="52.85" stroke="#A878EC" stroke-width="0.55" stroke-linecap="round" />
<line x1="460.90" y1="48.85" x2="460.90" y2="52.85" stroke="#A878EC" stroke-width="0.55" stroke-linecap="round" />
<text class="g" x="460.3" y="57.55">O</text>
<text class="g" x="465.9" y="47.85">N</text>
<text class="g" x="465.9" y="42.75">H</text>
<polyline points="468.10,46.85 471.55,48.65 477.20,45.90 482.80,48.65 487.00,46.75" fill="none" stroke="#A878EC" stroke-width="0.55" stroke-linecap="round" stroke-linejoin="round"/>
<text class="g" x="489.3" y="47.85">N</text>
<text class="g" x="489.3" y="42.75">H</text>
<line x1="491.50" y1="46.95" x2="494.70" y2="48.65" stroke="#A878EC" stroke-width="0.55" stroke-linecap="round" />
<text class="g" x="428.2" y="62.25">OH</text>
<text class="g" x="438.7" y="62.85">OH</text>
<text class="g" x="439.1" y="68.65" style="font-size:4.86px">O</text>
<text class="g" x="421.1" y="72.95">HO</text>
<text class="g" x="428.9" y="79.05">AcHN</text>
<text class="g" x="448.3" y="71.4" style="font-size:5.34px">O</text>
<line x1="426.70" y1="62.65" x2="427.00" y2="67.05" stroke="#A878EC" stroke-width="0.55" stroke-linecap="round" />
<polyline points="434.80,62.45 431.50,64.25 432.50,67.85" fill="none" stroke="#A878EC" stroke-width="0.55" stroke-linecap="round" stroke-linejoin="round"/>
<polyline points="427.00,67.05 432.50,67.85 437.00,67.25" fill="none" stroke="#A878EC" stroke-width="0.55" stroke-linecap="round" stroke-linejoin="round"/>
<polyline points="440.60,68.65 442.20,71.85 435.60,70.85 429.10,71.85 427.00,67.05" fill="none" stroke="#A878EC" stroke-width="0.55" stroke-linecap="round" stroke-linejoin="round"/>
<line x1="424.80" y1="71.25" x2="429.10" y2="71.85" stroke="#A878EC" stroke-width="0.55" stroke-linecap="round" />
<line x1="435.60" y1="70.85" x2="435.30" y2="74.45" stroke="#A878EC" stroke-width="0.55" stroke-linecap="round" />
<line x1="442.20" y1="71.85" x2="446.00" y2="70.25" stroke="#A878EC" stroke-width="0.55" stroke-linecap="round" />
<polyline points="450.60,70.35 454.70,72.25 460.30,69.50 465.95,72.25 471.60,69.50 477.20,72.25 480.80,70.45" fill="none" stroke="#A878EC" stroke-width="0.55" stroke-linecap="round" stroke-linejoin="round"/>
<line x1="476.70" y1="72.25" x2="476.70" y2="76.45" stroke="#A878EC" stroke-width="0.55" stroke-linecap="round" />
<line x1="477.80" y1="72.45" x2="477.80" y2="76.45" stroke="#A878EC" stroke-width="0.55" stroke-linecap="round" />
<text class="g" x="477.2" y="81.15">O</text>
<text class="g" x="482.8" y="71.45">N</text>
<text class="g" x="482.8" y="66.35">H</text>
<polyline points="485.00,70.45 488.45,72.25 494.10,69.50 499.70,72.25 503.90,70.35" fill="none" stroke="#A878EC" stroke-width="0.55" stroke-linecap="round" stroke-linejoin="round"/>
<text class="g" x="506.2" y="71.45">N</text>
<text class="g" x="506.2" y="66.35">H</text>
<line x1="508.40" y1="70.55" x2="511.60" y2="72.25" stroke="#A878EC" stroke-width="0.55" stroke-linecap="round" />
<line x1="509.60" y1="22.50" x2="513.00" y2="20.60" stroke="#A878EC" stroke-width="0.55" stroke-linecap="round" />
<line x1="510.00" y1="23.50" x2="513.40" y2="21.60" stroke="#A878EC" stroke-width="0.55" stroke-linecap="round" />
<text class="g" x="515.5" y="21.8">O</text>
<polyline points="509.40,23.00 509.40,29.90 515.60,34.00 518.60,34.40" fill="none" stroke="#A878EC" stroke-width="0.55" stroke-linecap="round" stroke-linejoin="round"/>
<text class="g" x="521" y="36.5">O</text>
<polyline points="522.80,36.20 525.60,39.30 525.00,46.00" fill="none" stroke="#A878EC" stroke-width="0.55" stroke-linecap="round" stroke-linejoin="round"/>
<line x1="494.20" y1="48.70" x2="494.20" y2="53.00" stroke="#A878EC" stroke-width="0.55" stroke-linecap="round" />
<line x1="495.30" y1="48.70" x2="495.30" y2="53.00" stroke="#A878EC" stroke-width="0.55" stroke-linecap="round" />
<text class="g" x="494.9" y="57.9">O</text>
<polyline points="494.70,48.65 500.60,45.90 506.25,48.70 510.20,46.70" fill="none" stroke="#A878EC" stroke-width="0.55" stroke-linecap="round" stroke-linejoin="round"/>
<text class="g" x="512.5" y="47.6">O</text>
<polyline points="514.80,46.90 518.40,48.60 525.00,46.00" fill="none" stroke="#A878EC" stroke-width="0.55" stroke-linecap="round" stroke-linejoin="round"/>
<line x1="511.10" y1="72.30" x2="511.10" y2="76.60" stroke="#A878EC" stroke-width="0.55" stroke-linecap="round" />
<line x1="512.20" y1="72.30" x2="512.20" y2="76.60" stroke="#A878EC" stroke-width="0.55" stroke-linecap="round" />
<text class="g" x="511.7" y="81.4">O</text>
<polyline points="511.60,72.25 518.10,68.10 518.10,62.00 519.80,59.00" fill="none" stroke="#A878EC" stroke-width="0.55" stroke-linecap="round" stroke-linejoin="round"/>
<text class="g" x="520.9" y="58.8">O</text>
<polyline points="522.40,55.20 525.00,52.40 525.00,46.00" fill="none" stroke="#A878EC" stroke-width="0.55" stroke-linecap="round" stroke-linejoin="round"/>
<line x1="525.00" y1="46.00" x2="528.30" y2="47.10" stroke="#A878EC" stroke-width="0.55" stroke-linecap="round" />
<text class="g" x="530.5" y="49.6">N</text>
<text class="g" x="530.5" y="54.5">H</text>
<line x1="532.60" y1="46.50" x2="536.25" y2="44.25" stroke="#A878EC" stroke-width="0.55" stroke-linecap="round" />
<line x1="535.70" y1="44.20" x2="535.70" y2="40.20" stroke="#A878EC" stroke-width="0.55" stroke-linecap="round" />
<line x1="536.80" y1="44.20" x2="536.80" y2="40.20" stroke="#A878EC" stroke-width="0.55" stroke-linecap="round" />
<text class="g" x="536.1" y="39.4">O</text>
<polyline points="536.25,44.25 542.02,47.20 547.79,44.25 553.56,47.20 559.33,44.25 565.10,47.20 570.87,44.25 576.64,47.20 582.41,44.25 588.18,47.20 593.95,44.25 599.72,47.20" fill="none" stroke="#A878EC" stroke-width="0.55" stroke-linecap="round" stroke-linejoin="round"/>
<line x1="599.17" y1="47.20" x2="599.17" y2="51.60" stroke="#A878EC" stroke-width="0.55" stroke-linecap="round" />
<line x1="600.27" y1="47.20" x2="600.27" y2="51.60" stroke="#A878EC" stroke-width="0.55" stroke-linecap="round" />
<text class="g" x="599.7" y="56.6">O</text>
<line x1="599.72" y1="47.20" x2="605.40" y2="44.20" stroke="#A878EC" stroke-width="0.55" stroke-linecap="round" />
<text class="g" x="607.8" y="45.1">N</text>
<polyline points="608.60,40.80 609.80,35.90 616.30,35.30 619.00,41.90 613.00,46.00 610.00,44.40" fill="none" stroke="#A878EC" stroke-width="0.55" stroke-linecap="round" stroke-linejoin="round"/>
<polygon points="619.00,41.90 623.55,42.95 623.65,41.45" fill="#9040E8" stroke="#9040E8" stroke-width="0.3" stroke-linejoin="round"/>
<text class="g" x="628.3" y="44.2">OH</text>
<line x1="609.06" y1="35.60" x2="609.42" y2="35.20" stroke="#A878EC" stroke-width="0.4" stroke-linecap="round" />
<line x1="607.85" y1="34.69" x2="608.37" y2="34.11" stroke="#A878EC" stroke-width="0.4" stroke-linecap="round" />
<line x1="606.64" y1="33.79" x2="607.33" y2="33.01" stroke="#A878EC" stroke-width="0.4" stroke-linecap="round" />
<line x1="605.44" y1="32.88" x2="606.29" y2="31.92" stroke="#A878EC" stroke-width="0.4" stroke-linecap="round" />
<polyline points="605.30,31.90 605.30,25.30 601.90,23.00 600.40,22.40" fill="none" stroke="#A878EC" stroke-width="0.55" stroke-linecap="round" stroke-linejoin="round"/>
<text class="g" x="598.5" y="23.4">P</text>
<line x1="599.60" y1="19.40" x2="600.80" y2="17.80" stroke="#A878EC" stroke-width="0.55" stroke-linecap="round" />
<text class="g" x="601.9" y="17.9">O</text>
<line x1="604.15" y1="13.40" x2="606.05" y2="13.40" stroke="#9040E8" stroke-width="0.5" stroke-linecap="round" />
<line x1="597.00" y1="23.60" x2="596.10" y2="25.20" stroke="#A878EC" stroke-width="0.55" stroke-linecap="round" />
<line x1="597.90" y1="24.10" x2="597.00" y2="25.70" stroke="#A878EC" stroke-width="0.55" stroke-linecap="round" />
<text class="g" x="595.2" y="29.5">O</text>
<line x1="597.00" y1="20.00" x2="594.20" y2="17.60" stroke="#A878EC" stroke-width="0.55" stroke-linecap="round" />
<path d="M593.6 20.4 q1.4 -0.3 0.8 -1.5 q-0.6 -1.2 0.8 -1.5 q1.4 -0.3 0.8 -1.5" fill="none" stroke="#A878EC" stroke-width="0.5"/>
</svg></body></html>
